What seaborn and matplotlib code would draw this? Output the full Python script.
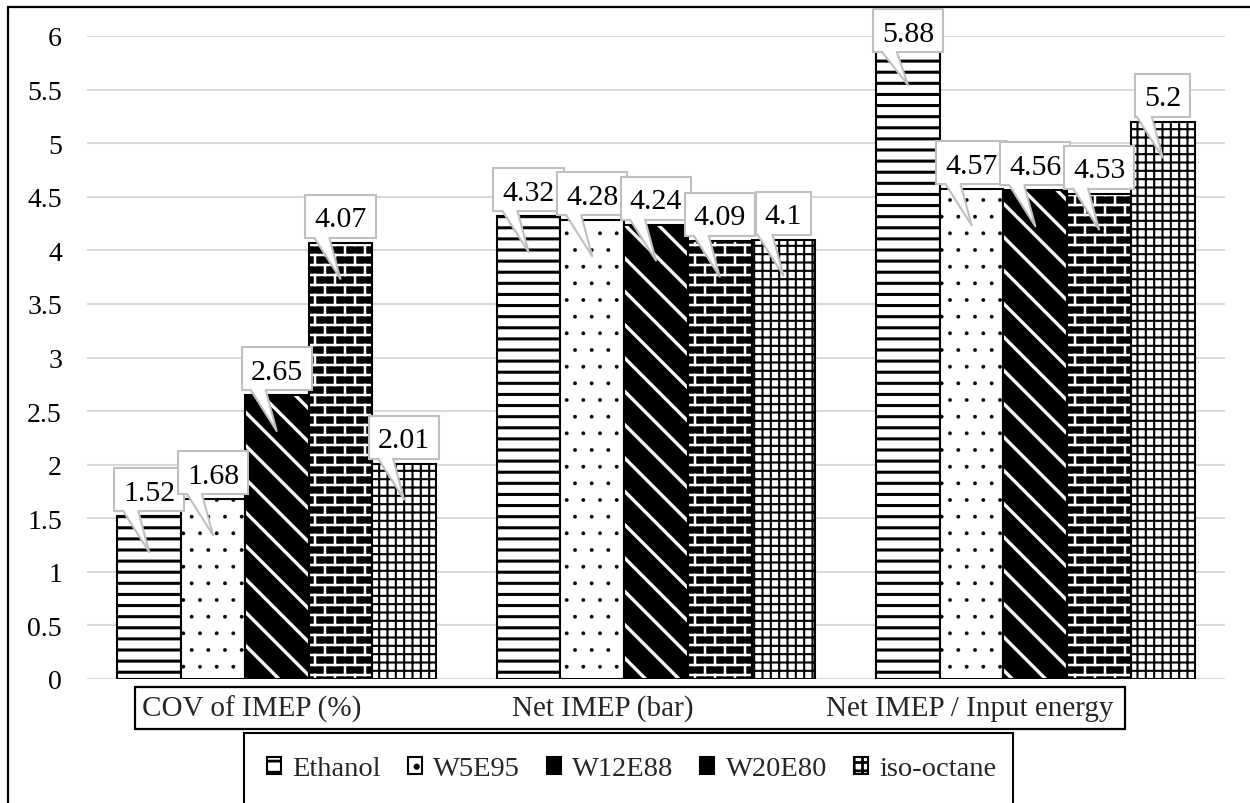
import warnings
import numpy as np
import pandas as pd
import matplotlib
matplotlib.use("Agg")
import matplotlib.pyplot as plt
import matplotlib.hatch as mhatch
from matplotlib.path import Path
from matplotlib.patches import Rectangle, Polygon, Patch
from matplotlib.lines import Line2D
from matplotlib.transforms import IdentityTransform
import seaborn as sns

warnings.filterwarnings("ignore", message="hatch must consist")

# ---- data -------------------------------------------------------------
metrics = ["COV of IMEP (%)", "Net IMEP (bar)", "Net IMEP / Input energy"]
fuels = ["Ethanol", "W5E95", "W12E88", "W20E80", "iso-octane"]
ethanol = [1.52, 4.32, 5.88]
w5e95 = [1.68, 4.28, 4.57]
w12e88 = [2.65, 4.24, 4.56]
w20e80 = [4.07, 4.09, 4.53]
iso_octane = [2.01, 4.10, 5.20]
y_ticks = [0, 0.5, 1, 1.5, 2, 2.5, 3, 3.5, 4, 4.5, 5, 5.5, 6]
y_tick_labels = ["0", "0.5", "1", "1.5", "2", "2.5", "3", "3.5", "4", "4.5",
                 "5", "5.5", "6"]
series_values = [ethanol, w5e95, w12e88, w20e80, iso_octane]

rows = []
for fuel, vals in zip(fuels, series_values):
    for metric, v in zip(metrics, vals):
        rows.append({"metric": metric, "fuel": fuel, "value": v})
df = pd.DataFrame(rows)


# ---- extra hatch patterns: brick wall ('b') and spaced lines ('h') ----
class _SegmentHatch(mhatch.HatchPatternBase):
    key = ""

    def __init__(self, hatch, density):
        self.segs = self.build() if (hatch and self.key in hatch) else []
        self.num_vertices = 2 * len(self.segs)

    def set_vertices_and_codes(self, vertices, codes):
        vertices[:] = np.array(self.segs, dtype=float).reshape(-1, 2)
        codes[0::2] = Path.MOVETO
        codes[1::2] = Path.LINETO


class BrickHatch(_SegmentHatch):
    key = "b"

    def build(self):
        nrow, ncol = 10, 5
        ys = [(k + 0.5) / nrow for k in range(nrow)]
        segs = [((0.0, y), (1.0, y)) for y in ys]
        for k in range(nrow):
            shift = 0.5 if k % 2 else 0.0
            for j in range(ncol):
                x = (j + 0.25 + shift) / ncol
                if k < nrow - 1:
                    segs.append(((x, ys[k]), (x, ys[k + 1])))
                else:
                    segs.append(((x, ys[k]), (x, 1.0)))
                    segs.append(((x, 0.0), (x, ys[0])))
        return segs


class LineHatch(_SegmentHatch):
    key = "h"

    def build(self):
        n = 9
        return [((0.0, (k + 0.5) / n), (1.0, (k + 0.5) / n)) for k in range(n)]


mhatch._hatch_types.append(BrickHatch)
mhatch._hatch_types.append(LineHatch)

# ---- style ------------------------------------------------------------
sns.set_theme(style="white")
plt.rcParams["font.family"] = ["Liberation Serif", "DejaVu Serif"]
plt.rcParams["hatch.linewidth"] = 2.0

W, H = 1250, 804
fig = plt.figure(figsize=(W / 100, H / 100), dpi=100, facecolor="white")
ax = fig.add_axes([87 / W, (H - 680) / H, (1225 - 87) / W, (680 - 37) / H])

sns.barplot(data=df, x="metric", y="value", hue="fuel", order=metrics,
            hue_order=fuels, palette={f: "white" for f in fuels},
            width=0.84, gap=0, errorbar=None, edgecolor="black",
            linewidth=1.5, legend=False, ax=ax)

# fill style per fuel: (face, hatch colour, hatch, hatch line width)
styles = [
    ("white", "black", "h", 2.2),
    ("white", "black", ".", 0.3),
    ("black", "white", "\\", 2.4),
    ("black", "white", "b", 1.8),
    ("white", "black", "++", 1.5),
]
for cont, (fc, hc, hatch, hlw) in zip(ax.containers, styles):
    for p in cont:
        p.set_facecolor(fc)
        p.set_edgecolor(hc)
        p.set_hatch(hatch)
        if hasattr(p, "set_hatch_linewidth"):
            p.set_hatch_linewidth(hlw)
        if fc == "black":
            p.set_linewidth(0)
            ax.add_patch(Rectangle(p.get_xy(), p.get_width(), p.get_height(),
                                   fill=False, edgecolor="black",
                                   linewidth=1.5, zorder=p.get_zorder() + 0.1))

ax.set_xlim(-0.5, 2.5)
ax.set_ylim(0, 6)
ax.set_yticks(y_ticks)
ax.set_yticklabels(y_tick_labels)
ax.set_xticks([])
ax.set_xlabel("")
ax.set_ylabel("")
ax.tick_params(axis="y", length=0, pad=18, labelsize=20, labelcolor="black")
ax.yaxis.grid(True, color="#d9d9d9", linewidth=1.5)
ax.set_axisbelow(True)
for s in ax.spines.values():
    s.set_visible(False)

# ---- value callouts --------------------------------------------------
renderer = fig.canvas.get_renderer()
ident = IdentityTransform()
label_fs = 21.5
em = label_fs * 100 / 72
gray = "#bfbfbf"
for i, cont in enumerate(ax.containers):
    z = 10 + 3 * i
    for p, v in zip(cont, series_values[i]):
        cx = p.get_x() + p.get_width() / 2
        dx, dy = ax.transData.transform((cx, v))
        box_h = 43
        bb = dy + 5
        if bb + box_h > H - 10:
            bb = H - 10 - box_h
        t = fig.text(dx, bb + box_h / 2 - 0.34 * em, f"{v:g}",
                     transform=ident, ha="center", va="baseline",
                     fontsize=label_fs, color="black", zorder=z + 1)
        tw = t.get_window_extent(renderer).width
        box_w = tw + 18
        fig.add_artist(Rectangle((dx - box_w / 2, bb), box_w, box_h,
                                 transform=ident, facecolor="white",
                                 edgecolor=gray, linewidth=1.5, zorder=z))
        tip = (dx, dy - 36)
        bl, br = dx - 26, dx - 11
        fig.add_artist(Polygon([(bl, bb + 1.5), tip, (br, bb + 1.5)],
                               closed=True, transform=ident,
                               facecolor="white", edgecolor="none",
                               zorder=z + 1))
        fig.add_artist(Line2D([bl, tip[0], br], [bb, tip[1], bb],
                              transform=ident, color=gray, linewidth=1.5,
                              zorder=z + 2))

# ---- category label strip --------------------------------------------
fig.add_artist(Rectangle((135 / W, (H - 730) / H), (1125 - 135) / W, 42 / H,
                         transform=fig.transFigure, fill=False,
                         edgecolor="black", linewidth=1.6))
cy = (H - 709) / H
fig.text(142 / W, cy, metrics[0], ha="left", va="center", fontsize=21)
fig.text(603 / W, cy, metrics[1], ha="center", va="center", fontsize=21)
fig.text(1113 / W, cy, metrics[2], ha="right", va="center", fontsize=21)

# ---- legend -----------------------------------------------------------
fig.add_artist(Rectangle((244 / W, -0.05), (1013 - 244) / W,
                         (H - 734) / H + 0.05, transform=fig.transFigure,
                         fill=False, edgecolor="black", linewidth=1.5))
handles = []
for fc, hc, hatch, hlw in styles:
    handles.append(Patch(facecolor=fc, edgecolor="black",
                         hatch=hatch if fc == "white" else None,
                         linewidth=1.5))
fig.legend(handles, fuels, loc="center left",
           bbox_to_anchor=(267 / W, (H - 770) / H), ncol=5, frameon=False,
           handlelength=0.5, handleheight=0.5, handletextpad=0.4,
           columnspacing=0.93, borderpad=0, borderaxespad=0, fontsize=20.5)

# outer frame
fig.add_artist(Rectangle((8 / W, -0.1), 1.2, (H - 8) / H + 0.1,
                         transform=fig.transFigure, fill=False,
                         edgecolor="black", linewidth=1.6))

fig.savefig("out.png", dpi=100, facecolor="white")
